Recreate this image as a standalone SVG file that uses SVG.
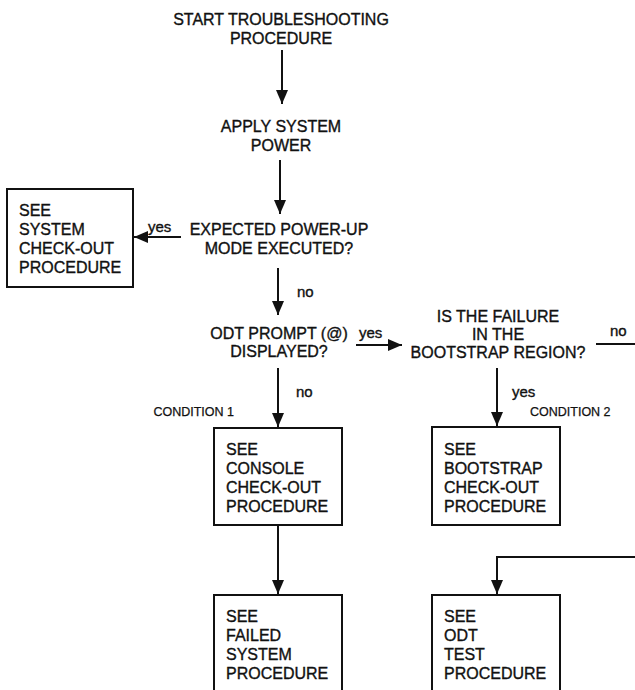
<svg xmlns="http://www.w3.org/2000/svg" width="635" height="690" viewBox="0 0 635 690">
<style>
text{font-family:"Liberation Sans",Arial,sans-serif;fill:#111;stroke:#111;stroke-width:0.35}
.t{font-size:16px}
.c{text-anchor:middle}
.l{font-size:15px}
.s{font-size:12.5px;stroke-width:0.25}
.box{fill:none;stroke:#111;stroke-width:2}
.ln{fill:none;stroke:#111;stroke-width:2}
</style>
<defs>
<marker id="ah" markerUnits="userSpaceOnUse" markerWidth="14" markerHeight="14" viewBox="0 0 14 12" refX="14" refY="6" orient="auto">
<path d="M0,0 L14,6 L0,12 Z" fill="#111"/>
</marker>
</defs>
<rect width="635" height="690" fill="#fff"/>

<g id="connectors">
<line class="ln" x1="282" y1="50" x2="282" y2="104" marker-end="url(#ah)"/>
<line class="ln" x1="280" y1="160" x2="280" y2="214" marker-end="url(#ah)"/>
<line class="ln" x1="181" y1="237" x2="134" y2="237" marker-end="url(#ah)"/>
<line class="ln" x1="278" y1="268" x2="278" y2="315" marker-end="url(#ah)"/>
<line class="ln" x1="356" y1="345" x2="402" y2="345" marker-end="url(#ah)"/>
<line class="ln" x1="596" y1="344" x2="635" y2="344"/>
<line class="ln" x1="278" y1="368" x2="278" y2="427" marker-end="url(#ah)"/>
<line class="ln" x1="497" y1="368" x2="497" y2="426" marker-end="url(#ah)"/>
<line class="ln" x1="278" y1="525" x2="278" y2="594" marker-end="url(#ah)"/>
<path class="ln" d="M635,557 H497 V594" marker-end="url(#ah)"/>
<text class="l" x="148" y="232">yes</text>
<text class="l" x="297" y="297">no</text>
<text class="l" x="359" y="338">yes</text>
<text class="l" x="610" y="336">no</text>
<text class="l" x="296" y="397">no</text>
<text class="l" x="512" y="397">yes</text>
<text class="s" x="234" y="416" text-anchor="end">CONDITION 1</text>
<text class="s" x="530" y="416">CONDITION 2</text>
</g>

<g id="start">
<text class="t c" x="281" y="25">START TROUBLESHOOTING</text>
<text class="t c" x="281" y="44">PROCEDURE</text>
</g>

<g id="power">
<text class="t c" x="281" y="132">APPLY SYSTEM</text>
<text class="t c" x="281" y="151">POWER</text>
</g>

<g id="expected">
<text class="t c" x="279" y="235">EXPECTED POWER-UP</text>
<text class="t c" x="279" y="254">MODE EXECUTED?</text>
</g>

<g id="system-checkout">
<rect class="box" x="7" y="189" width="126" height="98"/>
<text class="t" x="19" y="216">SEE</text>
<text class="t" x="19" y="235">SYSTEM</text>
<text class="t" x="19" y="254">CHECK-OUT</text>
<text class="t" x="19" y="273">PROCEDURE</text>
</g>

<g id="odt-prompt">
<text class="t c" x="279" y="339">ODT PROMPT (@)</text>
<text class="t c" x="279" y="357">DISPLAYED?</text>
</g>

<g id="bootstrap-failure">
<text class="t c" x="498" y="322">IS THE FAILURE</text>
<text class="t c" x="498" y="340">IN THE</text>
<text class="t c" x="498" y="358">BOOTSTRAP REGION?</text>
</g>

<g id="console-checkout">
<rect class="box" x="214" y="428" width="128" height="97"/>
<text class="t" x="226" y="455">SEE</text>
<text class="t" x="226" y="474">CONSOLE</text>
<text class="t" x="226" y="493">CHECK-OUT</text>
<text class="t" x="226" y="512">PROCEDURE</text>
</g>

<g id="bootstrap-checkout">
<rect class="box" x="432" y="427" width="128" height="98"/>
<text class="t" x="444" y="455">SEE</text>
<text class="t" x="444" y="474">BOOTSTRAP</text>
<text class="t" x="444" y="493">CHECK-OUT</text>
<text class="t" x="444" y="512">PROCEDURE</text>
</g>

<g id="failed-system">
<rect class="box" x="214" y="595" width="128" height="100"/>
<text class="t" x="226" y="622">SEE</text>
<text class="t" x="226" y="641">FAILED</text>
<text class="t" x="226" y="660">SYSTEM</text>
<text class="t" x="226" y="679">PROCEDURE</text>
</g>

<g id="odt-test">
<rect class="box" x="432" y="595" width="128" height="100"/>
<text class="t" x="444" y="622">SEE</text>
<text class="t" x="444" y="641">ODT</text>
<text class="t" x="444" y="660">TEST</text>
<text class="t" x="444" y="679">PROCEDURE</text>
</g>
</svg>
